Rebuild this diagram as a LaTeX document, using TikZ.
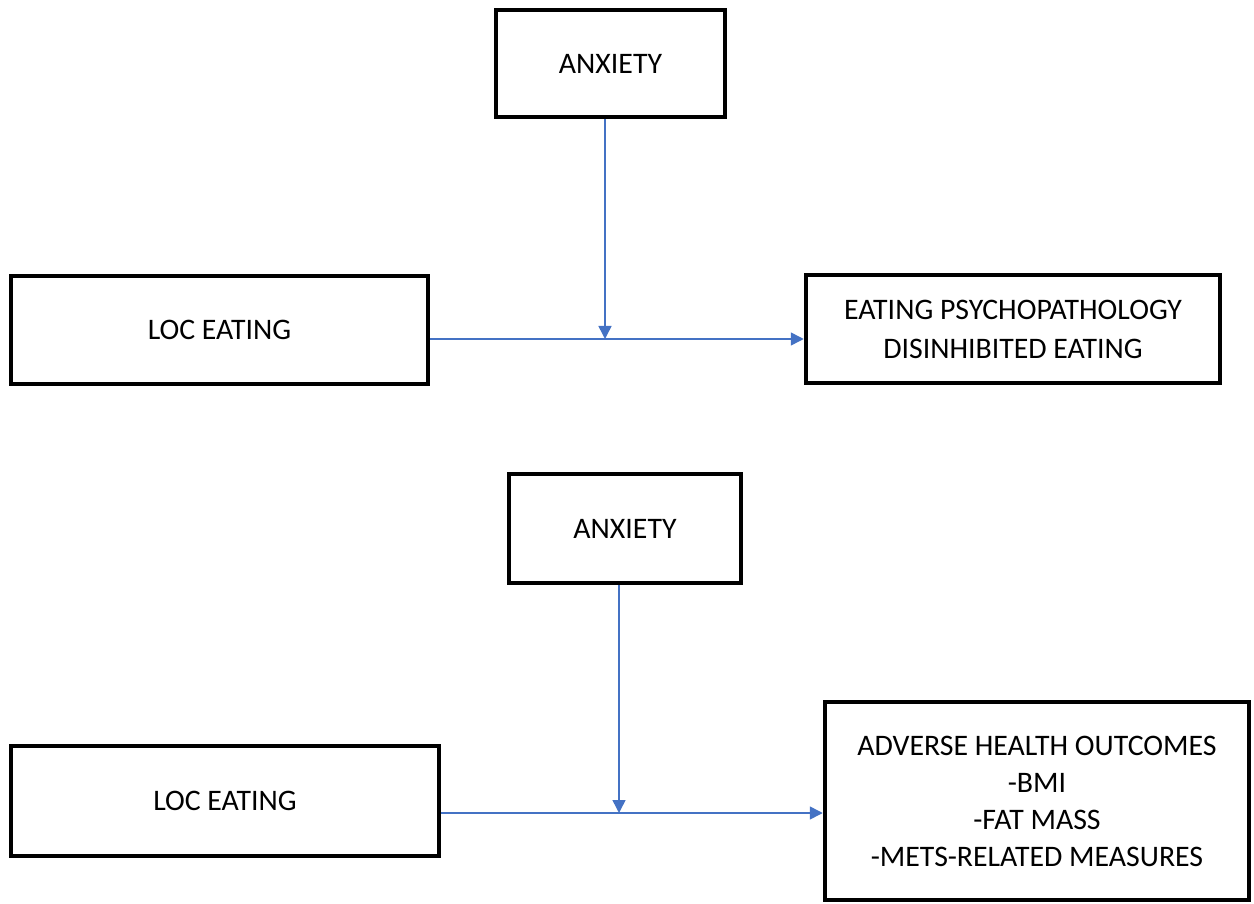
\documentclass[tikz,border=0pt]{standalone}
\usepackage{fontspec}
\setmainfont{Carlito}
\usetikzlibrary{arrows.meta,calc}
\definecolor{arrowblue}{HTML}{4472C4}
\begin{document}
\begin{tikzpicture}[x=1pt,y=-1pt,
  box/.style={draw=black,line width=4.5pt,fill=white,rectangle,inner sep=0pt,
    align=center,font=\fontsize{29.8}{39}\selectfont},
  link/.style={draw=arrowblue,line width=1.5pt,-{Triangle[length=13pt,width=13pt]}}]
\useasboundingbox (0,0) rectangle (1254,904);
\node[box,minimum width=229pt,minimum height=107pt] (anx1) at (610.5,63.5) {ANXIETY};
\node[box,minimum width=417pt,minimum height=108pt] (loc1) at (219.5,330) {LOC EATING};
\node[box,minimum width=414pt,minimum height=108pt] (ep) at (1013,329) {EATING PSYCHOPATHOLOGY\\DISINHIBITED EATING};
\node[box,minimum width=232pt,minimum height=109pt] (anx2) at (625,528.5) {ANXIETY};
\node[box,minimum width=428pt,minimum height=110pt] (loc2) at (225,801) {LOC EATING};
\node[box,minimum width=424pt,minimum height=198pt,font=\fontsize{29.8}{37}\selectfont] (adv) at (1037,801) {ADVERSE HEALTH OUTCOMES\\-BMI\\-FAT MASS\\-METS-RELATED MEASURES};
\coordinate (j1) at (605,339);
\coordinate (j2) at (619,813);
\draw[link] (loc1.east |- j1) -- (ep.west |- j1);
\draw[link] (anx1.south -| j1) -- (j1);
\draw[link] (loc2.east |- j2) -- (adv.west |- j2);
\draw[link] (anx2.south -| j2) -- (j2);
\end{tikzpicture}
\end{document}
